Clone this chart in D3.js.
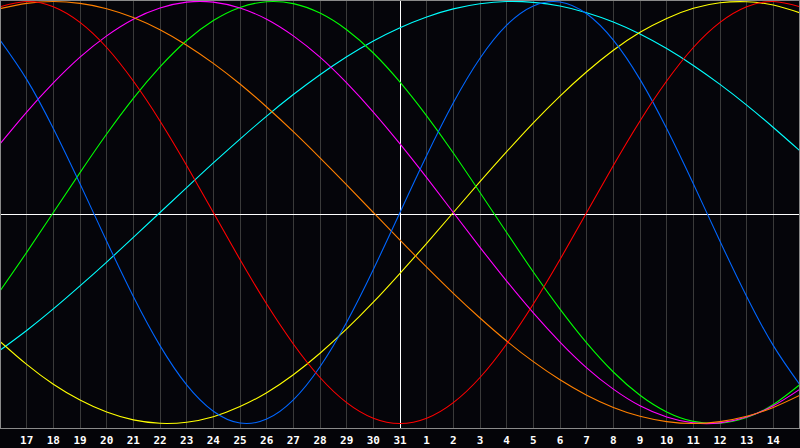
<!DOCTYPE html>
<html>
<head>
<meta charset="utf-8">
<script src="https://cdn.jsdelivr.net/npm/d3@7"></script>
<style>
  html, body { margin: 0; padding: 0; background: #040408; }
  svg { display: block; }
</style>
</head>
<body>
<svg id="chart" width="800" height="448"></svg>
<script>
// Day labels for grid positions 1..29 (position 15 = "today")
const dayLabels = ["17","18","19","20","21","22","23","24","25","26","27","28","29","30","31",
                   "1","2","3","4","5","6","7","8","9","10","11","12","13","14"];

const physical = [0.817,0.631,0.398,0.136,-0.136,-0.398,-0.631,-0.817,-0.942,-0.998,-0.979,-0.888,-0.731,-0.520,-0.270,
  0,0.270,0.520,0.731,0.888,0.979,0.998,0.942,0.817,0.631,0.398,0.136,-0.136,-0.398,-0.631,-0.817];
const emotional = [0.975,1,0.975,0.901,0.782,0.623,0.434,0.223,0,-0.223,-0.434,-0.623,-0.782,-0.901,-0.975,
  -1,-0.975,-0.901,-0.782,-0.623,-0.434,-0.223,0,0.223,0.434,0.623,0.782,0.901,0.975,1,0.975];
const intellectual = [-0.372,-0.189,0,0.189,0.372,0.541,0.690,0.815,0.910,0.972,0.999,0.990,0.945,0.866,0.756,
  0.618,0.458,0.282,0.095,-0.095,-0.282,-0.458,-0.618,-0.756,-0.866,-0.945,-0.990,-0.999,-0.972,-0.910,-0.815];
const intuitive = [0.325,0.476,0.614,0.736,0.837,0.916,0.969,0.997,0.997,0.969,0.916,0.837,0.736,0.614,0.476,
  0.325,0.165,0,-0.165,-0.325,-0.476,-0.614,-0.736,-0.837,-0.916,-0.969,-0.997,-0.997,-0.969,-0.916,-0.837];
const aesthetic = [-0.611,-0.720,-0.814,-0.889,-0.946,-0.983,-0.999,-0.994,-0.968,-0.920,-0.854,-0.769,-0.667,-0.552,-0.425,
  -0.288,-0.146,0,0.146,0.288,0.425,0.552,0.667,0.769,0.854,0.920,0.968,0.994,0.999,0.983,0.946];
const awareness = [0.966,0.991,1,0.991,0.966,0.924,0.866,0.793,0.707,0.609,0.5,0.383,0.259,0.131,0,
  -0.131,-0.259,-0.383,-0.5,-0.609,-0.707,-0.793,-0.866,-0.924,-0.966,-0.991,-1,-0.991,-0.966,-0.924,-0.866];
const spiritual = [-0.653,-0.559,-0.457,-0.348,-0.235,-0.118,0,0.118,0.235,0.348,0.457,0.559,0.653,0.738,0.813,
  0.876,0.927,0.965,0.989,1.000,0.996,0.979,0.947,0.903,0.846,0.777,0.697,0.607,0.509,0.403,0.292];

const seriesNames = ["spiritual","aesthetic","intellectual","intuitive","awareness","physical","emotional"];
const seriesValues = [spiritual, aesthetic, intellectual, intuitive, awareness, physical, emotional];
const seriesColors = ["#00ffff","#ffff00","#00ff00","#ff00ff","#ff8000","#0066ff","#ff0000"];

const W = 800, plotBottom = 428;
const svg = d3.select("#chart");

const x = d3.scaleLinear().domain([0, 30]).range([0, W]);
const y = d3.scaleLinear().domain([-1, 1]).range([423.5, 1.5]);

// plot background
svg.append("rect").attr("x", 0).attr("y", 0).attr("width", W).attr("height", plotBottom)
  .attr("fill", "#05050a");

// vertical grid lines
const gridIdx = d3.range(1, 30);
svg.append("g").selectAll("line").data(gridIdx.filter(i => i !== 15)).join("line")
  .attr("x1", d => Math.floor(x(d)) + 0.5).attr("x2", d => Math.floor(x(d)) + 0.5)
  .attr("y1", 0).attr("y2", plotBottom)
  .attr("stroke", "#3a3a3a").attr("stroke-width", 1).attr("shape-rendering", "crispEdges");

// center cross lines
svg.append("line").attr("x1", Math.floor(x(15)) + 0.5).attr("x2", Math.floor(x(15)) + 0.5)
  .attr("y1", 0).attr("y2", plotBottom)
  .attr("stroke", "#ffffff").attr("shape-rendering", "crispEdges");
svg.append("line").attr("x1", 0).attr("x2", W)
  .attr("y1", 214.5).attr("y2", 214.5)
  .attr("stroke", "#ffffff").attr("shape-rendering", "crispEdges");

// curves
const clip = svg.append("clipPath").attr("id", "plotclip")
  .append("rect").attr("x", 0).attr("y", 0).attr("width", W).attr("height", plotBottom);

const line = d3.line().x((d, i) => x(i)).y(d => y(d)).curve(d3.curveNatural);
svg.append("g").attr("clip-path", "url(#plotclip)")
  .selectAll("path").data(seriesValues).join("path")
  .attr("d", d => line(d))
  .attr("fill", "none")
  .attr("stroke", (d, i) => seriesColors[i])
  .attr("stroke-width", 1.1);

// border
svg.append("path")
  .attr("d", `M0.5,${plotBottom + 0.5} V0.5 H${W - 0.5} V${plotBottom + 0.5} H0.5`)
  .attr("fill", "none").attr("stroke", "#8a8a8a").attr("shape-rendering", "crispEdges");

// day labels
svg.append("g").selectAll("text").data(gridIdx).join("text")
  .attr("x", d => x(d))
  .attr("y", 443.5)
  .attr("text-anchor", "middle")
  .attr("fill", "#ffffff")
  .attr("font-family", "'DejaVu Sans Mono', monospace")
  .attr("font-weight", "bold")
  .attr("font-size", "11px")
  .text(d => dayLabels[d - 1]);
</script>
</body>
</html>
